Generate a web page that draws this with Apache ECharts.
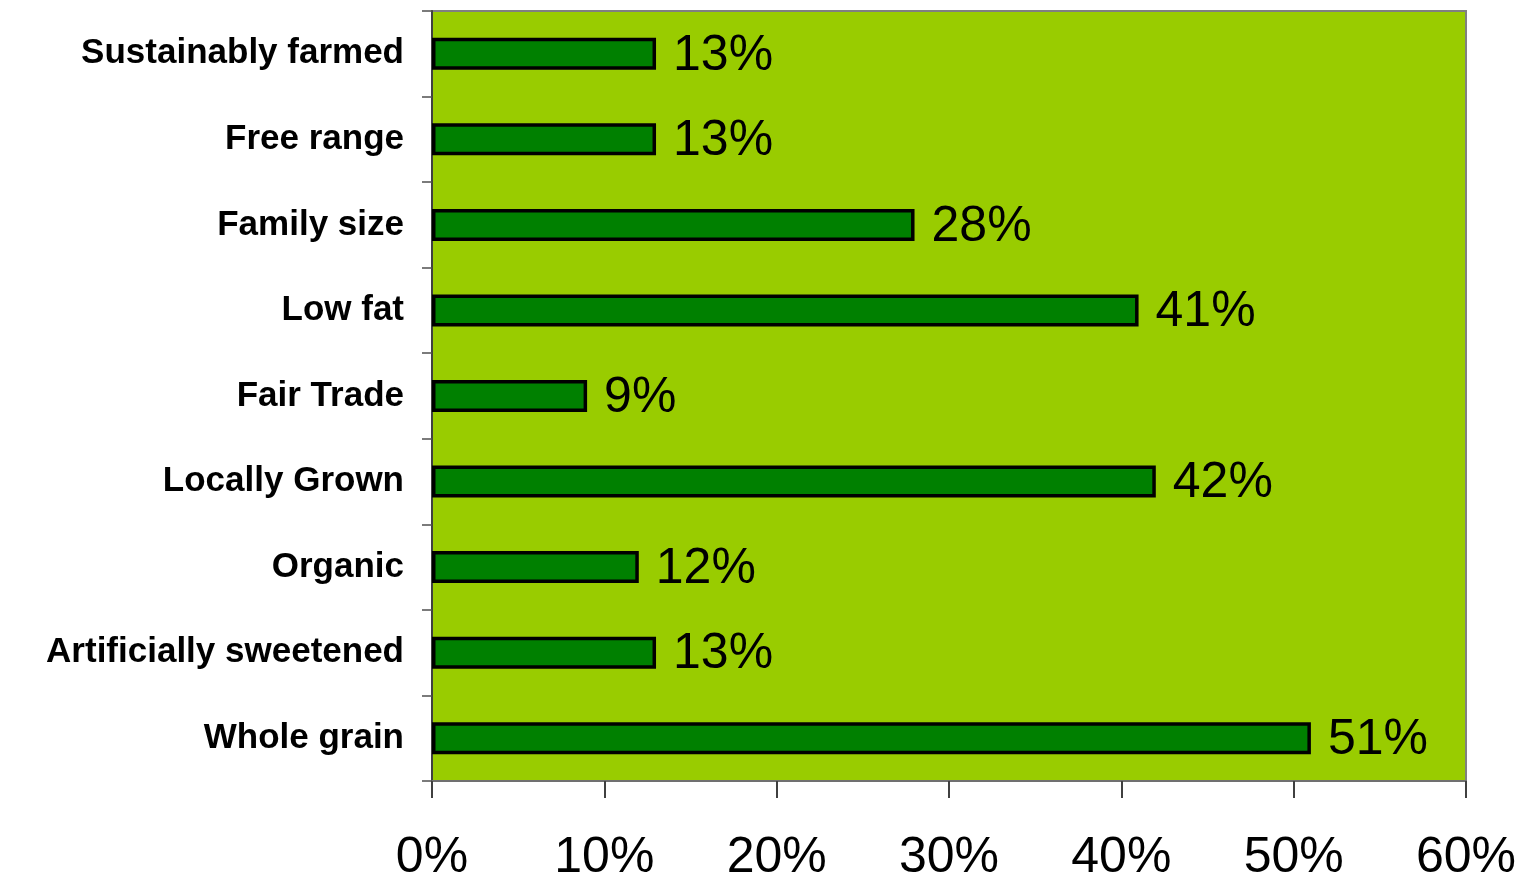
<!DOCTYPE html>
<html>
<head>
<meta charset="utf-8">
<script src="https://cdn.jsdelivr.net/npm/echarts@6/dist/echarts.min.js"></script>
<style>
  html, body { margin: 0; padding: 0; background: #ffffff; }
  #chart { width: 1525px; height: 879px; }
</style>
</head>
<body>
<div id="chart"></div>
<script>
// Product attributes, listed bottom to top as drawn on the category axis
const categories = [
  'Whole grain',
  'Artificially sweetened',
  'Organic',
  'Locally Grown',
  'Fair Trade',
  'Low fat',
  'Family size',
  'Free range',
  'Sustainably farmed'
];
// Share of respondents (percent)
const shares = [51, 13, 12, 42, 9, 41, 28, 13, 13];
// Percent axis range
const axisMin = 0;
const axisMax = 60;
const axisStep = 10;

const chart = echarts.init(document.getElementById('chart'), null, { renderer: 'canvas' });

chart.setOption({
  backgroundColor: '#ffffff',
  animation: false,
  grid: {
    left: 432,
    right: 59,
    top: 11,
    bottom: 98,
    outerBoundsMode: 'none',
    containLabel: false,
    show: true,
    backgroundColor: '#99CC00',
    borderColor: '#808080',
    borderWidth: 2
  },
  xAxis: {
    type: 'value',
    min: axisMin,
    max: axisMax,
    interval: axisStep,
    splitLine: { show: false },
    axisLine: { show: true, lineStyle: { color: '#707070', width: 2 } },
    axisTick: { show: true, length: 17, lineStyle: { color: '#404040', width: 2 } },
    axisLabel: {
      formatter: '{value}%',
      fontFamily: 'Liberation Sans, Arial, sans-serif',
      fontSize: 50,
      color: '#000000',
      margin: 52
    }
  },
  yAxis: {
    type: 'category',
    data: categories,
    axisLine: { show: true, lineStyle: { color: '#404040', width: 2 } },
    axisTick: { show: true, length: 10, alignWithLabel: false, lineStyle: { color: '#505050', width: 1.5 } },
    axisLabel: {
      fontFamily: 'Liberation Sans, Arial, sans-serif',
      fontWeight: 'bold',
      fontSize: 35,
      color: '#000000',
      margin: 28
    }
  },
  series: [{
    type: 'bar',
    data: shares,
    barWidth: 32,
    itemStyle: {
      color: '#008000',
      borderColor: '#000000',
      borderWidth: 3.5
    },
    label: {
      show: true,
      position: 'right',
      distance: 17,
      offset: [0, 2],
      formatter: '{c}%',
      fontFamily: 'Liberation Sans, Arial, sans-serif',
      fontSize: 50,
      color: '#000000'
    }
  }]
});
</script>
</body>
</html>
